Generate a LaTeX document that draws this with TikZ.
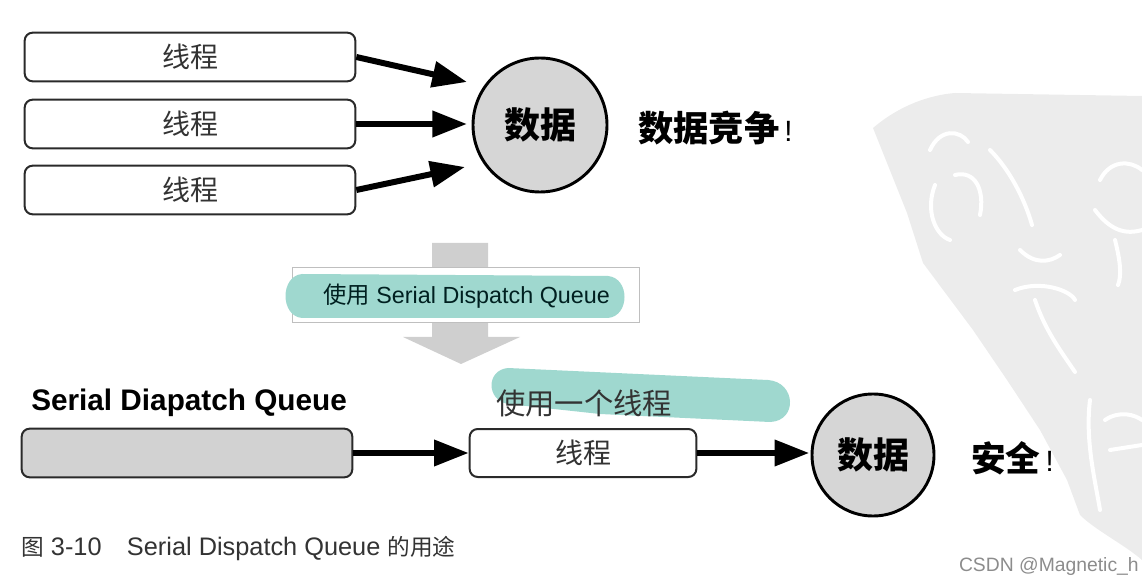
\documentclass[tikz,border=0pt]{standalone}
\usepackage{fontspec}
\setmainfont{Liberation Sans}
\newfontfamily\cjk{Noto Sans CJK SC}
\usetikzlibrary{arrows.meta}
\definecolor{teal1}{HTML}{9FD8CF}
\definecolor{wm}{HTML}{ECECEC}
\definecolor{cfill}{HTML}{D6D6D6}
\definecolor{bfill}{HTML}{D2D2D2}
\definecolor{agray}{HTML}{CFCFCF}
\definecolor{bord}{HTML}{2A2A2A}
\tikzset{
  thread/.style={draw=bord, line width=1.5pt, rounded corners=6pt, fill=white,
    minimum width=248pt, minimum height=36.5pt, inner sep=0pt,
    font=\cjk\fontsize{21}{21}\selectfont, text=black!80},
  databall/.style={circle, draw=black, line width=2.2pt, fill=cfill, inner sep=0pt,
    font=\cjk\bfseries\fontsize{27}{27}\selectfont},
  bigarrow/.style={line width=4.5pt, -{Triangle[length=26pt,width=19pt]}},
  txt/.style={inner sep=0pt, anchor=west},
  stroke/.style={white, line width=3pt, line cap=round}
}
\begin{document}
\begin{tikzpicture}[x=0.75pt,y=-0.75pt]
\useasboundingbox (0,0) rectangle (1142,584);
% watermark
\fill[wm] (873,128) .. controls (900,105) and (930,95) .. (955,93) -- (1142,96) -- (1142,560)
  .. controls (1125,545) and (1095,530) .. (1080,515) -- (1067,480) -- (1040,430) -- (1007,380)
  -- (973,330) -- (923,263) -- (907,213) -- cycle;
\draw[stroke] (930,150) .. controls (940,128) and (960,130) .. (968,142);
\draw[stroke] (935,185) .. controls (925,210) and (935,235) .. (950,240);
\draw[stroke] (955,175) .. controls (975,170) and (985,190) .. (980,215);
\draw[stroke] (990,150) .. controls (1010,170) and (1025,200) .. (1032,225);
\draw[stroke] (1020,250) .. controls (1035,265) and (1050,262) .. (1060,255);
\draw[stroke] (1015,290) .. controls (1040,280) and (1070,290) .. (1075,300);
\draw[stroke] (1035,300) .. controls (1045,330) and (1060,350) .. (1075,372);
\draw[stroke] (1090,400) .. controls (1085,440) and (1095,480) .. (1100,510);
\draw[stroke] (1105,420) .. controls (1120,410) and (1135,415) .. (1142,420);
\draw[stroke] (1110,450) -- (1142,445);
\draw[stroke] (1100,180) .. controls (1110,160) and (1130,160) .. (1142,170);
\draw[stroke] (1095,210) .. controls (1110,230) and (1125,235) .. (1142,230);
\draw[stroke] (1115,240) .. controls (1120,260) and (1122,275) .. (1118,285);

% top part
\node[thread] (t1) at (190,57) {线程};
\node[thread] (t2) at (190,124) {线程};
\node[thread] (t3) at (190,190) {线程};
\node[databall, minimum size=100.5pt] (d1) at (540,125) {数据};
\coordinate (p1) at (467,82);
\coordinate (p2) at (467,124);
\coordinate (p3) at (465,167);
\draw[bigarrow] (t1.east) -- (p1);
\draw[bigarrow] (t2.east) -- (p2);
\draw[bigarrow] (t3.east) -- (p3);
\node[txt, font=\cjk\bfseries\fontsize{26.5}{26.5}\selectfont] (race) at (638,128) {数据竞争\normalfont\fontsize{22}{22}\selectfont\,!};

% transition arrow
\fill[agray] (432,243) -- (488,243) -- (488,337) -- (520,337) -- (461,364) -- (403,337) -- (432,337) -- cycle;
\node[draw=black!25, line width=0.8pt, fill=white, minimum width=260pt, minimum height=41pt, inner sep=0pt] (lbl) at (466,295) {};
\fill[teal1] (302,274) -- (608,276) .. controls (630,278) and (630,316) .. (608,318) -- (302,318) .. controls (280,316) and (280,276) .. (302,274) -- cycle;
\node[txt, text=black!75!teal, font=\fontsize{17.5}{17.5}\selectfont] (lbltxt) at (323,296) {{\cjk 使用} Serial Dispatch Queue};

% bottom part
\fill[teal1] (508,368) -- (768,380) .. controls (796,382) and (798,421) .. (770,422) -- (600,414) -- (508,404) .. controls (486,400) and (486,370) .. (508,368) -- cycle;
\node[txt, font=\bfseries\fontsize{22.3}{22.3}\selectfont] (qt) at (31,403) {Serial Diapatch Queue};
\node[thread, fill=bfill, minimum width=248pt] (q) at (187,453) {};
\node[txt, text=black!80, font=\cjk\fontsize{22}{22}\selectfont] (use1) at (496,403) {使用一个线程};
\node[thread, minimum width=170pt, minimum height=36pt] (t4) at (583,453) {线程};
\node[databall, minimum size=91.5pt] (d2) at (873,455) {数据};
\draw[bigarrow] (q.east) -- (t4.west);
\draw[bigarrow, shorten >=1pt] (t4.east) -- (d2.west |- t4.east);
\node[txt, font=\cjk\bfseries\fontsize{26}{26}\selectfont] (safe) at (971,458) {安全\normalfont\fontsize{22}{22}\selectfont\,!};

% caption
\node[txt, text=black!80] (cap) at (21,549) {{\cjk\fontsize{17}{17}\selectfont 图}\fontsize{19}{19}\selectfont\ 3-10\quad Serial Dispatch Queue {\cjk\fontsize{17}{17}\selectfont 的用途}};
\node[inner sep=0pt, anchor=east, text=black!45, font=\fontsize{14.5}{14.5}\selectfont] (csdn) at (1139,566) {CSDN @Magnetic\_h};
\end{tikzpicture}
\end{document}
